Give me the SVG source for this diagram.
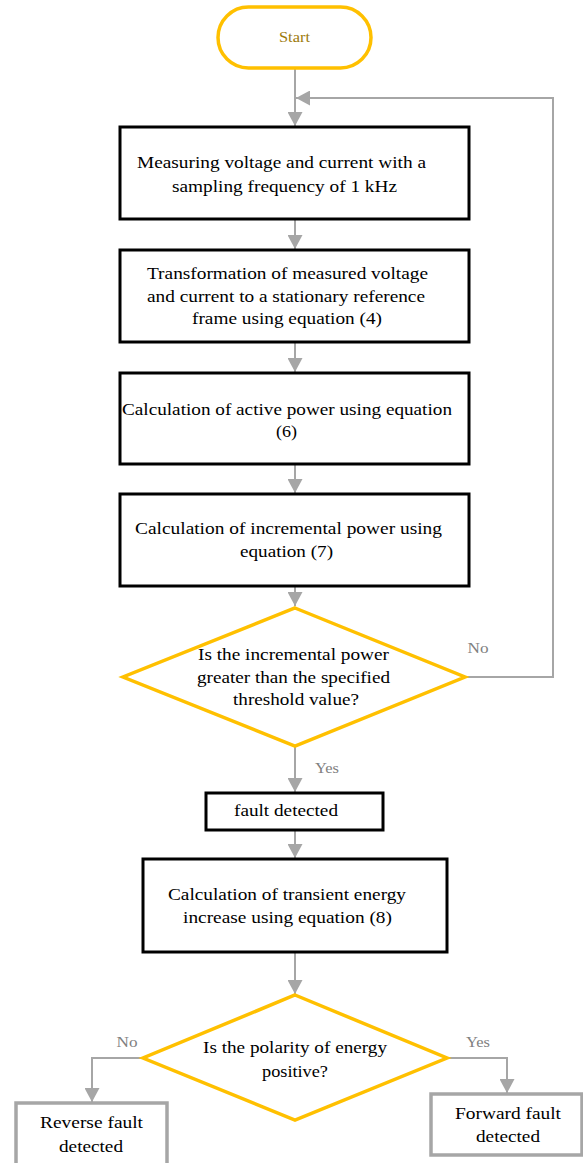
<svg xmlns="http://www.w3.org/2000/svg" width="583" height="1163" viewBox="0 0 583 1163">
<style>
.box{fill:#fff;stroke:#000;stroke-width:3}
.gbox{fill:#fff;stroke:#A6A6A6;stroke-width:3.5}
.term,.dec{fill:#fff;stroke:#FFC000;stroke-width:3.5;stroke-linejoin:miter}
text{font-family:'Liberation Serif','DejaVu Serif','Noto Serif',serif}
.t{font-size:17px;fill:#000;text-anchor:middle}
.lbl{font-size:15px;fill:#808080;text-anchor:middle}
.st{font-size:15px;fill:#9C7A0A;text-anchor:middle}
.c{fill:none;stroke:#A6A6A6;stroke-width:2}
</style>
<defs>
<marker id="ah" markerUnits="userSpaceOnUse" markerWidth="15" markerHeight="15" refX="14" refY="7.5" orient="auto" viewBox="0 0 15 15">
<path d="M0,0 L14,7.5 L0,15 z" fill="#A6A6A6"/>
</marker>
</defs>
<rect width="583" height="1163" fill="#fff"/>
<g id="connectors">
<path class="c" d="M295,69 V126" marker-end="url(#ah)"/>
<path class="c" d="M465,677 H553 V98 H296" marker-end="url(#ah)"/>
<path class="c" d="M295,219 V249" marker-end="url(#ah)"/>
<path class="c" d="M295,342 V372" marker-end="url(#ah)"/>
<path class="c" d="M295,464 V493" marker-end="url(#ah)"/>
<path class="c" d="M295,586 V606" marker-end="url(#ah)"/>
<path class="c" d="M295,746 V792" marker-end="url(#ah)"/>
<path class="c" d="M295,830 V858" marker-end="url(#ah)"/>
<path class="c" d="M295,952 V994" marker-end="url(#ah)"/>
<path class="c" d="M143,1058 H92 V1102" marker-end="url(#ah)"/>
<path class="c" d="M447,1058 H507 V1093" marker-end="url(#ah)"/>
<text class="lbl" x="478" y="653" textLength="21" lengthAdjust="spacingAndGlyphs">No</text>
<text class="lbl" x="327" y="773" textLength="24" lengthAdjust="spacingAndGlyphs">Yes</text>
<text class="lbl" x="127" y="1047" textLength="21" lengthAdjust="spacingAndGlyphs">No</text>
<text class="lbl" x="478" y="1047" textLength="24" lengthAdjust="spacingAndGlyphs">Yes</text>
</g>
<g id="start">
<rect class="term" x="218" y="7" width="153" height="61" rx="30.5"/>
<text class="st" x="294.5" y="42" textLength="31" lengthAdjust="spacingAndGlyphs">Start</text>
</g>
<g id="measure">
<rect class="box" x="120" y="127" width="349" height="92"/>
<text class="t" x="281.5" y="168" textLength="289" lengthAdjust="spacingAndGlyphs">Measuring voltage and current with a</text>
<text class="t" x="284.5" y="192" textLength="225" lengthAdjust="spacingAndGlyphs">sampling frequency of 1 kHz</text>
</g>
<g id="transform">
<rect class="box" x="120" y="250" width="349" height="92"/>
<text class="t" x="287.5" y="279" textLength="281" lengthAdjust="spacingAndGlyphs">Transformation of measured voltage</text>
<text class="t" x="286" y="302" textLength="278" lengthAdjust="spacingAndGlyphs">and current to a stationary reference</text>
<text class="t" x="287" y="324" textLength="190" lengthAdjust="spacingAndGlyphs">frame using equation (4)</text>
</g>
<g id="active">
<rect class="box" x="120" y="373" width="349" height="91"/>
<text class="t" x="287" y="415" textLength="330" lengthAdjust="spacingAndGlyphs">Calculation of active power using equation</text>
<text class="t" x="286.5" y="437" textLength="21" lengthAdjust="spacingAndGlyphs">(6)</text>
</g>
<g id="incremental">
<rect class="box" x="120" y="494" width="349" height="92"/>
<text class="t" x="288.5" y="534" textLength="307" lengthAdjust="spacingAndGlyphs">Calculation of incremental power using</text>
<text class="t" x="286.5" y="557" textLength="93" lengthAdjust="spacingAndGlyphs">equation (7)</text>
</g>
<g id="threshold">
<polygon class="dec" points="295,608 465,677 295,746 123,677"/>
<text class="t" x="293.5" y="660" textLength="191" lengthAdjust="spacingAndGlyphs">Is the incremental power</text>
<text class="t" x="293.5" y="683" textLength="193" lengthAdjust="spacingAndGlyphs">greater than the specified</text>
<text class="t" x="296" y="705" textLength="126" lengthAdjust="spacingAndGlyphs">threshold value?</text>
</g>
<g id="fault">
<rect class="box" x="206" y="793" width="177" height="37"/>
<text class="t" x="286" y="816" textLength="104" lengthAdjust="spacingAndGlyphs">fault detected</text>
</g>
<g id="energy">
<rect class="box" x="143" y="859" width="304" height="93"/>
<text class="t" x="287" y="900" textLength="238" lengthAdjust="spacingAndGlyphs">Calculation of transient energy</text>
<text class="t" x="287.5" y="923" textLength="209" lengthAdjust="spacingAndGlyphs">increase using equation (8)</text>
</g>
<g id="polarity">
<polygon class="dec" points="295,995 447,1058 295,1120 143,1058"/>
<text class="t" x="295" y="1053" textLength="184" lengthAdjust="spacingAndGlyphs">Is the polarity of energy</text>
<text class="t" x="295" y="1077" textLength="66" lengthAdjust="spacingAndGlyphs">positive?</text>
</g>
<g id="reverse">
<rect class="gbox" x="16" y="1103" width="151" height="72"/>
<text class="t" x="91.5" y="1128" textLength="103" lengthAdjust="spacingAndGlyphs">Reverse fault</text>
<text class="t" x="91" y="1152" textLength="64" lengthAdjust="spacingAndGlyphs">detected</text>
</g>
<g id="forward">
<rect class="gbox" x="431" y="1094" width="151" height="61"/>
<text class="t" x="508" y="1119" textLength="106" lengthAdjust="spacingAndGlyphs">Forward fault</text>
<text class="t" x="508" y="1142" textLength="64" lengthAdjust="spacingAndGlyphs">detected</text>
</g>
</svg>
